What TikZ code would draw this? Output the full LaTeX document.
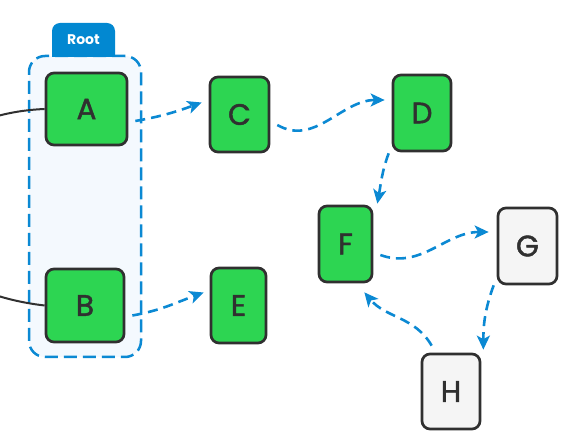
\documentclass[tikz,border=0pt]{standalone}
\usepackage{fontspec}
\setmainfont{Poppins}
\newfontfamily\nodefont{Poppins}[FakeBold=1.6]
\usetikzlibrary{arrows.meta}
\definecolor{gfill}{HTML}{2DD552}
\definecolor{wfill}{HTML}{F5F5F5}
\definecolor{edgec}{HTML}{303030}
\definecolor{blu}{HTML}{0B89D3}
\definecolor{tabc}{HTML}{0288D1}
\definecolor{grpfill}{HTML}{F4F9FE}
\begin{document}
\begin{tikzpicture}[x=1pt,y=1pt,
  box/.style={draw=edgec, line width=2.7pt, rounded corners=8pt, inner sep=0pt,
    font=\nodefont\fontsize{29.5}{29.5}\selectfont, text=edgec},
  gbox/.style={box, fill=gfill},
  wbox/.style={box, fill=wfill},
  conn/.style={draw=blu, line width=2.6pt, dash pattern=on 10pt off 6pt,
    -{Stealth[length=14pt,width=13pt,inset=3.5pt]}},
  grp/.style={draw=blu, fill=grpfill, line width=2.5pt, dash pattern=on 13pt off 6pt,
    rounded corners=16pt, inner sep=0pt},
  tabtext/.style={text=white, font=\fontsize{14}{14}\selectfont\bfseries},
  bigline/.style={draw=edgec, line width=2pt},
]
\useasboundingbox (0,0) rectangle (566,-446);

% group container
\node[grp, minimum width=112pt, minimum height=301pt] (group) at (85,-206.5) {};
\fill[tabc] (52,-57) [rounded corners=8pt] -- (52,-23) -- (115,-23) [sharp corners] -- (115,-57) -- cycle;
\node[tabtext] (root) at (83.5,-40) {Root};

% nodes
\node[gbox, minimum width=81pt, minimum height=72pt] (A) at (86.5,-109) {A};
\node[gbox, minimum width=78pt, minimum height=73pt] (B) at (85,-305.5) {B};
\node[gbox, minimum width=59pt, minimum height=75pt] (C) at (239.5,-114.5) {C};
\node[gbox, minimum width=58pt, minimum height=76pt] (D) at (422,-113) {D};
\node[gbox, minimum width=55pt, minimum height=75pt] (E) at (238.5,-305.5) {E};
\node[gbox, minimum width=53pt, minimum height=76pt] (F) at (345.5,-244) {F};
\node[wbox, minimum width=59pt, minimum height=76pt] (G) at (527.5,-246) {G};
\node[wbox, minimum width=58pt, minimum height=75pt] (H) at (451,-391.5) {H};

% incoming line from the left
\begin{scope}
\clip (0,0) rectangle (566,-446);
\draw[bigline] (A.west) .. controls (-30,-112) and (-90,-150) .. (-90,-207)
  .. controls (-90,-260) and (-30,-297) .. (B.west);
\end{scope}

% connectors
\draw[conn] ([shift={(7pt,-12pt)}]A.east) to[out=10,in=200] ([shift={(-7pt,12pt)}]C.west);
\draw[conn] ([shift={(7pt,-10.5pt)}]C.east) to[out=-30,in=180] ([shift={(-7pt,13pt)}]D.west);
\draw[conn] ([shift={(-3pt,-1pt)}]D.south west) to[out=250,in=80] ([shift={(4pt,1pt)}]F.north east);
\draw[conn] ([shift={(7pt,-11pt)}]F.east) to[out=-20,in=180] ([shift={(-8pt,14pt)}]G.west);
\draw[conn] ([shift={(-3pt,0pt)}]G.south west) to[out=250,in=90] ([shift={(2pt,3pt)}]H.north east);
\draw[conn] ([shift={(11pt,7pt)}]H.north west) to[out=120,in=-50] ([shift={(-9pt,-9pt)}]F.south east);
\draw[conn] ([shift={(7pt,-10pt)}]B.east) to[out=10,in=200] ([shift={(-6pt,13pt)}]E.west);
\end{tikzpicture}
\end{document}
